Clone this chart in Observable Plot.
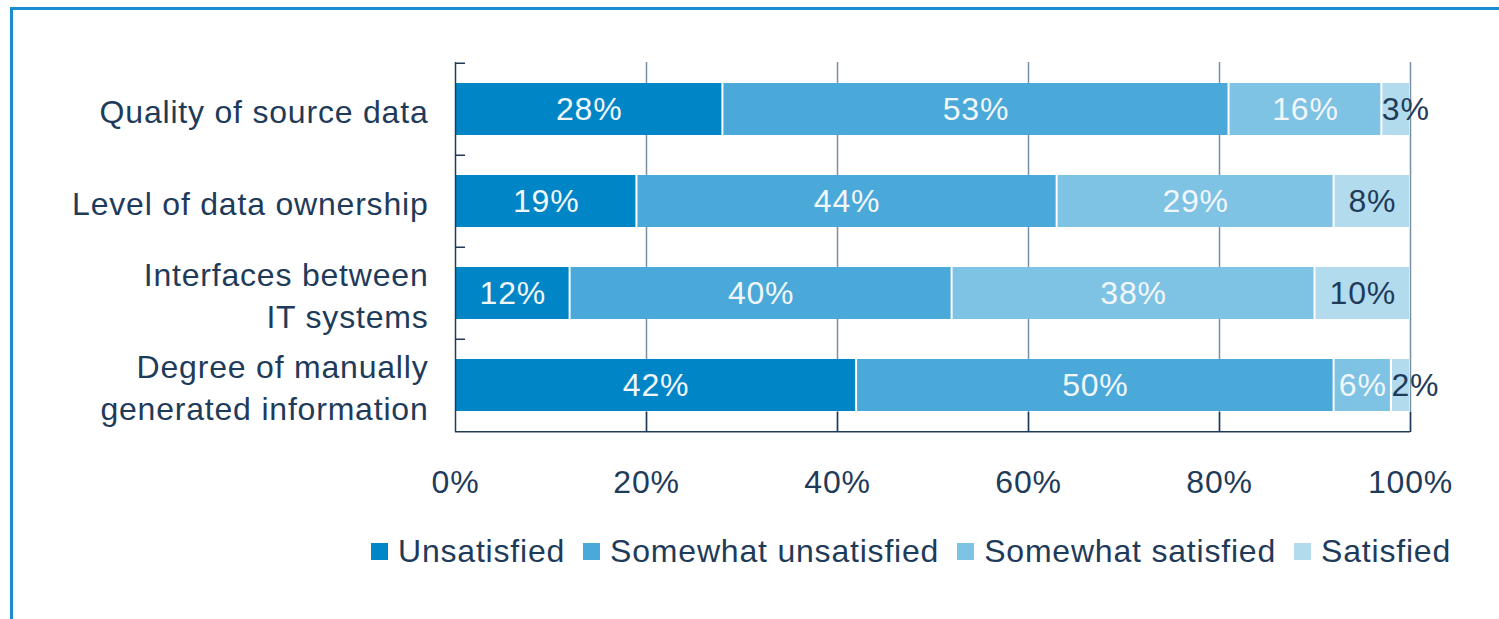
<!DOCTYPE html>
<html>
<head>
<meta charset="utf-8">
<script src="https://cdn.jsdelivr.net/npm/d3@7"></script>
<script src="https://cdn.jsdelivr.net/npm/@observablehq/plot@0.6"></script>
<style>
  html, body { margin: 0; padding: 0; background: #fff; overflow: hidden; }
  body { width: 1499px; height: 619px; position: relative; font-family: "Liberation Sans", Arial, sans-serif; }
  #frame { position: absolute; left: 10px; top: 7px; width: 1600px; height: 700px;
           border-top: 3px solid #1b8dcf; border-left: 3px solid #1b8dcf; pointer-events: none; }
  #legend { display: flex; align-items: center; padding-left: 371px; margin-top: 13px;
            font-size: 32px; letter-spacing: 0.8px; color: #1f3b5a; line-height: 36px; }
  .item { display: flex; align-items: center; margin-right: 18px; }
  .sw { width: 17px; height: 17px; margin-right: 10px; }
</style>
</head>
<body>
<div id="chart"></div>
<div id="legend"></div>
<div id="frame"></div>
<script>
const categories = ["Quality of source data", "Level of data ownership", "Interfaces between IT systems", "Degree of manually generated information"];
const categoryLabels = ["Quality of source data", "Level of data ownership", "Interfaces between\nIT systems", "Degree of manually\ngenerated information"];
const levels = ["Unsatisfied", "Somewhat unsatisfied", "Somewhat satisfied", "Satisfied"];
const colors = ["#0085c6", "#4aa9d9", "#7ec2e4", "#b2dbee"];
const unsatisfied = [28, 19, 12, 42];
const somewhatUnsatisfied = [53, 44, 40, 50];
const somewhatSatisfied = [16, 29, 38, 6];
const satisfied = [3, 8, 10, 2];
const xTicks = [0, 20, 40, 60, 80, 100];

const series = [unsatisfied, somewhatUnsatisfied, somewhatSatisfied, satisfied];
const data = [];
categories.forEach((c, i) => levels.forEach((l, j) => data.push({category: c, level: l, value: series[j][i]})));

const W = 1499, H = 520, mTop = 62, mBottom = 88, mLeft = 455, mRight = 89;
const innerH = H - mTop - mBottom;
const step = innerH / categories.length;
const dark = "#1f3b5a";
const labelOf = new Map(categories.map((c, i) => [c, categoryLabels[i]]));

const chart = Plot.plot({
  width: W, height: H,
  marginTop: mTop, marginBottom: mBottom, marginLeft: mLeft, marginRight: mRight,
  style: {fontFamily: "Liberation Sans, Arial, sans-serif", fontSize: "32px", letterSpacing: "0.8px", color: dark, background: "transparent"},
  x: {domain: [0, 100], ticks: xTicks, tickFormat: d => d + "%"},
  y: {domain: categories, paddingInner: 0.44, paddingOuter: 0.22, axis: null},
  color: {domain: levels, range: colors},
  marks: [
    Plot.ruleX(xTicks.slice(1), {stroke: "#7890a6", strokeWidth: 1.5}),
    Plot.barX(data, Plot.stackX({x: "value", y: "category", fill: "level", order: levels, insetLeft: 1, insetRight: 1})),
    Plot.text(data, Plot.stackX({x: "value", y: "category", z: "level", order: levels,
      text: d => d.value >= 5 ? d.value + "%" : "",
      fill: d => d.level === "Satisfied" ? dark : "#f2f7fb", fontSize: 32})),
    Plot.text(data, Plot.stackX1({x: "value", y: "category", z: "level", order: levels,
      text: d => d.value < 5 ? d.value + "%" : "",
      fill: dark, textAnchor: "start", fontSize: 32})),
    Plot.ruleX([0], {stroke: dark, strokeWidth: 1.5}),
    Plot.ruleY([categories[categories.length - 1]], {x1: 0, x2: 100, dy: step / 2, stroke: dark, strokeWidth: 1.5}),
    Plot.ruleY(categories, {y: d => d, x1: 0, x2: 0, insetRight: -10, dy: -step / 2, stroke: dark, strokeWidth: 1.5}),
    Plot.ruleX(xTicks.slice(1), {insetTop: innerH - 20, stroke: dark, strokeWidth: 1.5}),
    Plot.text(categories, {x: 0, y: d => d, text: d => labelOf.get(d), textAnchor: "end", dx: -27, lineHeight: 1.31, fill: dark, fontSize: 32}),
    Plot.axisX({ticks: xTicks, tickSize: 0, tickPadding: 38, tickFormat: d => d + "%", fill: dark, fontSize: 32, label: null})
  ]
});
document.getElementById("chart").appendChild(chart);

const legend = document.getElementById("legend");
levels.forEach((l, i) => {
  const item = document.createElement("div");
  item.className = "item";
  const sw = document.createElement("div");
  sw.className = "sw";
  sw.style.background = colors[i];
  const t = document.createElement("span");
  t.textContent = l;
  item.appendChild(sw); item.appendChild(t);
  legend.appendChild(item);
});
</script>
</body>
</html>
